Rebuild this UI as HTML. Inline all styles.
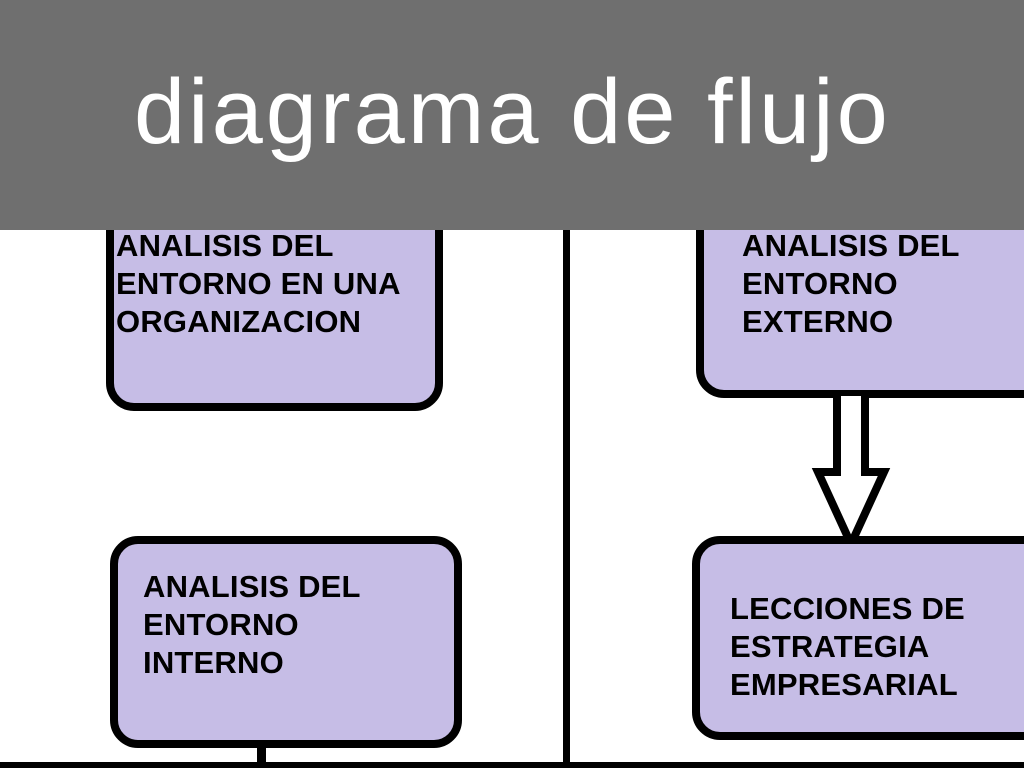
<!DOCTYPE html>
<html><head><style>
body{margin:0;width:1024px;height:768px;overflow:hidden;background:#fff;position:relative;font-family:"Liberation Sans",sans-serif}
.box{position:absolute;background:#c6bde6;border:8px solid #000;border-radius:28px;box-sizing:border-box}
.t{position:absolute;font-weight:bold;font-size:31px;line-height:38px;letter-spacing:0.2px;color:#000;white-space:nowrap}
#hdr{position:absolute;left:0;top:0;width:1024px;height:230px;background:#6f6f6f}
#title{position:absolute;left:134px;top:52px;color:#fff;font-size:92px;line-height:120px;letter-spacing:3px}
</style></head><body>
<div class="box" style="left:106px;top:150px;width:337px;height:261px"></div>
<div class="t" style="left:116px;top:227px">ANALISIS DEL<br>ENTORNO EN UNA<br>ORGANIZACION</div>
<div class="box" style="left:110px;top:536px;width:352px;height:212px"></div>
<div class="t" style="left:143px;top:568px">ANALISIS DEL<br>ENTORNO<br>INTERNO</div>
<div style="position:absolute;left:257px;top:744px;width:9px;height:24px;background:#000"></div>
<div style="position:absolute;left:563px;top:225px;width:7px;height:543px;background:#000"></div>
<div style="position:absolute;left:0;top:762px;width:1024px;height:6px;background:#000"></div>
<div class="box" style="left:696px;top:130px;width:360px;height:268px"></div>
<div class="t" style="left:742px;top:227px">ANALISIS DEL<br>ENTORNO<br>EXTERNO</div>
<svg style="position:absolute;left:0;top:0" width="1024" height="768">
<path d="M837 396 V472 H818 L851 544 L884 472 H865 V396" fill="#fff" stroke="#000" stroke-width="8" stroke-linejoin="miter"/>
</svg>
<div class="box" style="left:692px;top:536px;width:360px;height:204px"></div>
<div class="t" style="left:730px;top:590px">LECCIONES DE<br>ESTRATEGIA<br>EMPRESARIAL</div>
<div id="hdr"></div>
<div id="title">diagrama de flujo</div>
</body></html>
